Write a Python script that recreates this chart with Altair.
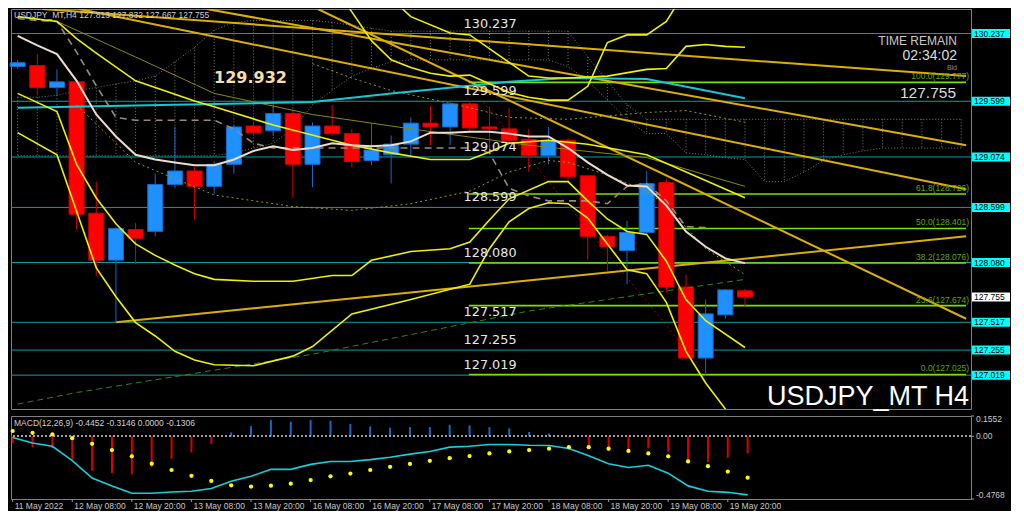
import altair as alt
import pandas as pd

# ---------------- chart values ----------------
bar_index = list(range(38))
opens = [129.926, 129.935, 129.728, 129.782, 128.544, 128.102, 128.391, 128.373, 128.815, 128.942,
         128.797, 129.005, 129.366, 129.321, 129.484, 129.005, 129.366, 129.294, 129.041, 129.095,
         129.195, 129.393, 129.357, 129.574, 129.357, 129.339, 129.240, 129.086, 129.231, 128.897,
         128.327, 128.192, 128.364, 128.833, 127.849, 127.180, 127.587, 127.813]
highs = [129.990, 130.044, 129.899, 129.800, 128.842, 128.410, 128.454, 128.915, 129.357, 128.978,
         129.032, 129.370, 129.400, 129.565, 129.520, 129.400, 129.565, 129.340, 129.393, 129.276,
         129.448, 129.556, 129.600, 129.600, 129.547, 129.538, 129.339, 129.357, 129.250, 128.900,
         128.340, 128.472, 128.942, 128.869, 127.966, 127.731, 127.830, 127.832]
lows = [129.900, 129.655, 129.655, 128.391, 127.957, 127.517, 128.065, 128.327, 128.779, 128.481,
        128.725, 128.915, 129.280, 129.276, 128.689, 128.788, 129.270, 128.978, 128.995, 128.824,
        129.086, 129.186, 129.186, 129.310, 129.131, 129.220, 128.933, 129.005, 128.851, 128.102,
        127.993, 127.876, 128.350, 127.794, 127.170, 127.019, 127.551, 127.667]
closes = [129.962, 129.728, 129.782, 128.535, 128.102, 128.400, 128.309, 128.815, 128.942, 128.797,
          129.005, 129.357, 129.303, 129.484, 129.005, 129.366, 129.294, 129.032, 129.140, 129.195,
          129.393, 129.357, 129.574, 129.348, 129.339, 129.231, 129.086, 129.231, 128.888, 128.327,
          128.228, 128.364, 128.824, 127.849, 127.180, 127.596, 127.822, 127.755]

macd_main = [-0.009, -0.050, -0.075, -0.184, -0.317, -0.377, -0.433, -0.433, -0.423, -0.418,
             -0.397, -0.341, -0.304, -0.251, -0.251, -0.213, -0.191, -0.191, -0.177, -0.159,
             -0.135, -0.115, -0.082, -0.075, -0.062, -0.062, -0.068, -0.070, -0.092, -0.147,
             -0.208, -0.237, -0.220, -0.280, -0.377, -0.418, -0.426, -0.4452]
macd_signal = [0.041, 0.027, 0.015, -0.014, -0.057, -0.104, -0.152, -0.208, -0.256, -0.300,
               -0.339, -0.373, -0.382, -0.375, -0.360, -0.333, -0.304, -0.283, -0.256, -0.232,
               -0.210, -0.186, -0.166, -0.150, -0.130, -0.115, -0.104, -0.094, -0.082, -0.082,
               -0.094, -0.111, -0.130, -0.152, -0.191, -0.227, -0.268, -0.3146]
macd_hist = [-0.050, -0.082, -0.087, -0.179, -0.261, -0.280, -0.288, -0.232, -0.171, -0.123,
             -0.057, 0.030, 0.078, 0.124, 0.112, 0.124, 0.119, 0.095, 0.076, 0.066,
             0.071, 0.071, 0.088, 0.083, 0.071, 0.061, 0.034, 0.022, -0.009, -0.075,
             -0.111, -0.123, -0.092, -0.115, -0.195, -0.195, -0.164, -0.1306]

tenkan = [130.215, 130.125, 130.043, 129.791, 129.474, 129.267, 129.095, 129.050, 129.023, 128.996,
          128.996, 129.050, 129.131, 129.176, 129.140, 129.158, 129.203, 129.185, 129.176, 129.185,
          129.221, 129.303, 129.303, 129.312, 129.312, 129.294, 129.267, 129.267, 129.158, 129.023,
          128.905, 128.806, 128.797, 128.616, 128.372, 128.228, 128.119, 128.074]
kijun_idx = list(range(36))
kijun = [130.378, 130.360, 130.351, 130.062, 129.745, 129.447, 129.420, 129.420, 129.420, 129.420,
         129.420, 129.339, 129.203, 129.158, 129.158, 129.158, 129.158, 129.158, 129.158, 129.158,
         129.158, 129.158, 129.158, 129.158, 129.113, 128.779, 128.707, 128.661, 128.661, 128.661,
         128.634, 128.797, 128.824, 128.661, 128.418, 128.409]
cyan_ma_idx = [0, 8, 15, 19, 23, 25, 28, 32, 35, 37]
cyan_ma = [129.538, 129.565, 129.592, 129.673, 129.745, 129.782, 129.818, 129.809, 129.700, 129.628]

band1_idx = [0, 2, 3, 4, 6, 9, 10, 13, 17, 19, 21, 23, 24, 25, 27, 29, 32, 37]
band1 = [130.396, 130.351, 130.188, 130.052, 129.791, 129.601, 129.547, 129.375, 129.185, 129.113,
         129.050, 129.050, 129.122, 129.203, 129.231, 129.194, 129.095, 128.689]
olive_idx = [2, 6, 10, 15, 20, 26, 32, 37]
olive = [130.351, 130.016, 129.673, 129.474, 129.339, 129.185, 129.068, 128.797]
band3_idx = [0, 2, 3, 4, 5, 6, 7, 8, 9, 10, 12, 14, 16, 17, 18, 20, 22, 23, 24, 25, 27, 28, 29, 30,
             31, 32, 33, 34, 35, 37]
band3 = [129.673, 129.502, 129.005, 128.688, 128.445, 128.255, 128.147, 128.056, 127.975, 127.921,
         127.903, 127.903, 127.957, 127.957, 128.101, 128.183, 128.210, 128.273, 128.481, 128.680,
         128.842, 128.842, 128.661, 128.490, 128.372, 128.345, 128.092, 127.731, 127.532, 127.279]
band4_idx = [0, 2, 4, 5, 6, 7, 8, 9, 10, 12, 14, 15, 17, 20, 23, 24, 25, 26, 27, 28, 29, 30, 31, 32,
             33, 34, 35, 36, 37]
band4 = [129.303, 129.095, 128.029, 127.758, 127.514, 127.388, 127.243, 127.162, 127.117, 127.108,
         127.198, 127.288, 127.596, 127.731, 127.876, 128.210, 128.463, 128.589, 128.643, 128.634,
         128.499, 128.255, 128.011, 127.975, 127.704, 127.243, 126.945, 126.701, 126.448]
band5_idx = [16, 17, 18, 19, 20, 21, 22, 23, 24, 25, 26, 27, 28, 29, 30, 31, 32, 33, 34]
band5 = [130.694, 130.441, 130.170, 129.989, 129.917, 129.863, 129.836, 129.845, 129.763, 129.682,
         129.637, 129.610, 129.610, 129.740, 130.152, 130.224, 130.224, 130.351, 130.649]
band6_idx = [18, 20, 22, 23, 26, 27, 28, 30, 32, 33, 34, 35, 36, 37]
band6 = [130.739, 130.396, 130.242, 130.224, 129.836, 129.818, 129.818, 129.836, 129.899, 129.908,
         130.116, 130.134, 130.116, 130.107]
dotted_low_idx = [3, 6, 10, 14, 17, 20, 23, 25, 27, 28, 30, 32, 33, 35, 37]
dotted_low = [129.565, 129.023, 128.716, 128.607, 128.571, 128.634, 128.752, 128.932, 129.041, 129.023,
              128.905, 128.752, 128.616, 128.210, 127.966]
dotted_up_idx = [15, 17, 19, 23, 25, 28, 32, 34, 37]
dotted_up = [129.953, 129.818, 129.700, 129.538, 129.447, 129.429, 129.493, 129.511, 129.402]
green_dash_idx = [0, 3, 15, 26, 37]
green_dash = [126.746, 126.855, 127.216, 127.623, 127.921]
red_dot_idx = [23.69, 35.0]
red_dot = [129.592, 127.035]

cloud_idx = list(range(49))
cloud_top = [129.637, 129.637, 129.655, 129.700, 129.727, 129.763, 129.791, 129.836, 129.971, 130.107,
             130.269, 130.342, 130.360, 130.360, 130.360, 130.360, 130.342, 130.314, 130.287, 130.260,
             130.260, 130.260, 130.260, 130.260, 130.260, 130.260, 130.260, 130.260, 130.260, 130.016,
             129.791, 129.565, 129.429, 129.429, 129.429, 129.429, 129.429, 129.429, 129.429, 129.429,
             129.429, 129.429, 129.429, 129.429, 129.429, 129.429, 129.429, 129.429, 129.429]
cloud_bottom = [129.086, 129.086, 129.086, 129.086, 129.086, 129.086, 129.086, 129.086, 129.086, 129.086,
                129.086, 129.113, 129.158, 129.203, 129.339, 129.565, 129.700, 129.836, 129.908, 129.971,
                129.989, 129.989, 129.989, 129.989, 129.989, 129.989, 129.989, 129.989, 129.926, 129.791,
                129.610, 129.429, 129.294, 129.294, 129.113, 129.095, 129.068, 129.050, 128.842, 128.842,
                128.932, 129.041, 129.095, 129.131, 129.158, 129.158, 129.158, 129.158, 129.158]

trend_x0 = [1.245, 9.61, 3.12, 15.27, 5.0]
trend_p0 = [130.468, 130.468, 130.468, 130.468, 127.517]
trend_x1 = [48.25, 48.25, 48.25, 48.25, 48.25]
trend_p1 = [129.836, 129.185, 128.770, 127.550, 128.327]

level_prices = [130.237, 129.599, 129.074, 128.599, 128.080, 127.517, 127.255, 127.019]
fib_pct = ["100.0", "61.8", "50.0", "38.2", "23.6", "0.0"]
fib_prices = [129.777, 128.726, 128.401, 128.076, 127.674, 127.025]
fib_start = 22.95
current_price = [127.755]

price_ticks = [130.180, 129.900, 129.620, 129.335, 129.055, 128.775, 128.495, 128.210,
               127.930, 127.650, 127.370, 127.085, 126.805]
macd_ticks = [0.1552, 0.0, -0.4768]
macd_tick_labels = ["0.1552", "0.00", "-0.4768"]
x_tick_pos = [0, 3, 6, 9, 12, 15, 18, 21, 24, 27, 30, 33, 36]
x_tick_labels = ["11 May 2022", "12 May 08:00", "12 May 20:00", "13 May 08:00", "13 May 20:00",
                 "16 May 08:00", "16 May 20:00", "17 May 08:00", "17 May 20:00", "18 May 08:00",
                 "18 May 20:00", "19 May 08:00", "19 May 20:00"]

# ---------------- layout / style ----------------
W, H, HM = 960, 400, 83
XD = [-0.0837, 48.243]
YD = [126.70, 130.468]
MD = [-0.4768, 0.1552]
AX = "#c8c8c8"
TICK = "#9a9a9a"
SANS = "Liberation Sans"

xs = alt.Scale(domain=XD, nice=False, zero=False)
ys = alt.Scale(domain=YD, nice=False, zero=False)
ms = alt.Scale(domain=MD, nice=False, zero=False)


def xq(f="i"):
    return alt.X(f"{f}:Q", scale=xs, axis=None)


def yq(f="p", axis=None):
    return alt.Y(f"{f}:Q", scale=ys, axis=axis)


def ym(f):
    return alt.Y(f"{f}:Q", scale=ms, axis=None)


def line(idx, vals, color, width=1.5, dash=None):
    df = pd.DataFrame({"i": idx, "p": vals})
    kw = dict(color=color, strokeWidth=width, clip=True)
    if dash:
        kw["strokeDash"] = dash
    return alt.Chart(df).mark_line(**kw).encode(x=xq(), y=yq())


def txt(s, x, y, **kw):
    return alt.Chart(pd.DataFrame({"t": [s]})).mark_text(**kw).encode(
        x=alt.value(x), y=alt.value(y), text="t:N")


# cloud
cloud_df = pd.DataFrame({"i": cloud_idx, "top": cloud_top, "bot": cloud_bottom})
cloud_v = alt.Chart(cloud_df).mark_rule(color="#7a7a7a", strokeDash=[1, 2], strokeWidth=1, clip=True).encode(
    x=xq(), y=yq("top"), y2="bot:Q")
cloud_t = alt.Chart(cloud_df).mark_line(color="#7a7a7a", strokeDash=[1, 2], strokeWidth=1, clip=True).encode(
    x=xq(), y=yq("top"))
cloud_b = alt.Chart(cloud_df).mark_line(color="#7a7a7a", strokeDash=[1, 2], strokeWidth=1, clip=True).encode(
    x=xq(), y=yq("bot"))

# horizontal levels
lv_df = pd.DataFrame({"p": level_prices, "lbl": [f"{v:.3f}" for v in level_prices]})
lv_rule = alt.Chart(lv_df).mark_rule(color="#0a9fa6", strokeWidth=1).encode(y=yq())
lv_text = alt.Chart(lv_df).mark_text(align="left", baseline="bottom", dy=-3, font="DejaVu Sans",
                                     fontSize=12.8, color="#e8e8e8").encode(
    x=alt.value(452.6), y=yq(), text="lbl:N")

# fibonacci
fib_df = pd.DataFrame({"p": fib_prices, "x0": [fib_start] * len(fib_prices), "x1": [XD[1]] * len(fib_prices),
                       "lbl": [f"{a}({b:.3f})" for a, b in zip(fib_pct, fib_prices)]})
fib_rule = alt.Chart(fib_df).mark_rule(color="#7ee000", strokeWidth=1.6).encode(
    x=xq("x0"), x2="x1:Q", y=yq())
fib_text = alt.Chart(fib_df).mark_text(align="right", baseline="bottom", dy=-1, font=SANS, fontSize=8.5,
                                       color="#5fa800").encode(x=alt.value(W - 2), y=yq(), text="lbl:N")

# trend lines
tl_df = pd.DataFrame({"x0": trend_x0, "p0": trend_p0, "x1": trend_x1, "p1": trend_p1})
tl = alt.Chart(tl_df).mark_rule(color="#dcb000", strokeWidth=2, clip=True).encode(
    x=xq("x0"), y=yq("p0"), x2="x1:Q", y2="p1:Q")

# candles
cd = pd.DataFrame({"i": bar_index, "o": opens, "h": highs, "l": lows, "c": closes})
cd["dir"] = ["up" if c >= o else "down" for o, c in zip(opens, closes)]
stroke_sc = alt.Scale(domain=["up", "down"], range=["#1667c8", "#d40000"])
fill_sc = alt.Scale(domain=["up", "down"], range=["#1e90ff", "#ff0000"])
y_axis = alt.Axis(orient="right", values=price_ticks, format=".3f", labelFont=SANS, labelFontSize=8.5,
                  labelColor=AX, tickColor=TICK, tickSize=3, labelPadding=2, domain=False,
                  grid=False, title=None, labelOverlap=False, labelFlush=False)
wicks = alt.Chart(cd).mark_rule(strokeWidth=1).encode(
    x=xq(), y=yq("l", axis=y_axis), y2="h:Q",
    stroke=alt.Stroke("dir:N", scale=stroke_sc, legend=None))
bodies = alt.Chart(cd).mark_bar(size=15, strokeWidth=1).encode(
    x=xq(), y=yq("o"), y2="c:Q",
    fill=alt.Fill("dir:N", scale=fill_sc, legend=None),
    stroke=alt.Stroke("dir:N", scale=stroke_sc, legend=None))

# indicators
YEL = "#f0f000"
ind = [
    line(green_dash_idx, green_dash, "#2f8a00", 1, [6, 4]),
    line(red_dot_idx, red_dot, "#a00000", 1, [2, 3]),
    line(dotted_up_idx, dotted_up, "#9a9a00", 1, [2, 3]),
    line(dotted_low_idx, dotted_low, "#9a9a00", 1, [2, 3]),
    line(kijun_idx, kijun, "#968a80", 1.6, [7, 5]),
    line(olive_idx, olive, "#8a8a00", 1),
    line(cyan_ma_idx, cyan_ma, "#14c8d4", 2),
    line(band1_idx, band1, YEL, 1.6),
    line(band3_idx, band3, YEL, 1.6),
    line(band4_idx, band4, YEL, 1.6),
    line(band5_idx, band5, YEL, 1.6),
    line(band6_idx, band6, YEL, 1.6),
    line(bar_index, tenkan, "#ecdccc", 2),
]

# right-hand price boxes
box_df = pd.DataFrame({"p": level_prices, "lbl": [f"{v:.3f}" for v in level_prices]})
cur_df = pd.DataFrame({"p": current_price, "lbl": [f"{v:.3f}" for v in current_price]})
boxes = alt.Chart(box_df).mark_rect(color="#00ffff", yOffset=-4.5, y2Offset=4.5).encode(
    x=alt.value(W + 1), x2=alt.value(W + 39), y=yq(), y2="p:Q")
box_txt = alt.Chart(box_df).mark_text(align="left", baseline="middle", font=SANS, fontSize=8.5,
                                      color="#000000").encode(x=alt.value(W + 3), y=yq(), text="lbl:N")
cbox = alt.Chart(cur_df).mark_rect(color="#ffffff", yOffset=-4.5, y2Offset=4.5).encode(
    x=alt.value(W + 1), x2=alt.value(W + 39), y=yq(), y2="p:Q")
cbox_txt = alt.Chart(cur_df).mark_text(align="left", baseline="middle", font=SANS, fontSize=8.5,
                                       color="#000000").encode(x=alt.value(W + 3), y=yq(), text="lbl:N")

texts = [
    txt("USDJPY_MT,H4  127.813 127.832 127.667 127.755", 3, 6, align="left", baseline="middle",
        font=SANS, fontSize=8.5, color="#d0d0d0"),
    txt("129.932", 239.5, 69, align="center", baseline="middle", font="DejaVu Sans", fontWeight="bold",
        fontSize=16, color="#f5deb3"),
    txt("TIME REMAIN", 946, 31.5, align="right", baseline="middle", font=SANS, fontSize=12, color="#c8c8c8"),
    txt("02:34:02", 946, 46.5, align="right", baseline="middle", font=SANS, fontSize=14, color="#dcdcdc"),
    txt("Bid", 946, 58.5, align="right", baseline="middle", font=SANS, fontSize=7, color="#8a8a8a"),
    txt("127.755", 945, 84, align="right", baseline="middle", font=SANS, fontSize=15.5, color="#dcdcdc"),
    txt("USDJPY_MT H4", 958, 396, align="right", baseline="alphabetic", font=SANS, fontSize=27,
        color="#ffffff"),
]

main = alt.layer(
    cloud_v, cloud_t, cloud_b, lv_rule, fib_rule, tl, wicks, bodies, *ind,
    lv_text, fib_text, boxes, box_txt, cbox, cbox_txt, *texts
).properties(width=W, height=H)

# ---------------- MACD panel ----------------
md = pd.DataFrame({"i": bar_index, "m": macd_main, "s": macd_signal, "h": macd_hist,
                   "z": [0.0] * len(bar_index)})
md["dir"] = ["up" if v >= 0 else "down" for v in macd_hist]
xt = pd.DataFrame({"i": x_tick_pos, "lbl": x_tick_labels})
mt = pd.DataFrame({"v": macd_ticks, "lbl": macd_tick_labels})

hist = alt.Chart(md).mark_rule(strokeWidth=2).encode(
    x=xq(), y=ym("h"), y2="z:Q",
    stroke=alt.Stroke("dir:N", scale=alt.Scale(domain=["up", "down"], range=["#1e7fe0", "#e00000"]),
                      legend=None))
zero = alt.Chart(md).mark_rule(color="#a0a0a0", strokeDash=[2, 2], strokeWidth=1).encode(y=ym("z"))
mline = alt.Chart(md).mark_line(color="#14d0dc", strokeWidth=1.6).encode(x=xq(), y=ym("m"))
sig = alt.Chart(md).mark_circle(color="#ffff00", size=18, opacity=1).encode(x=xq(), y=ym("s"))
mtitle = txt("MACD(12,26,9) -0.4452 -0.3146 0.0000 -0.1306", 3, 7, align="left", baseline="middle",
             font=SANS, fontSize=8.5, color="#d0d0d0")

# bottom time axis (ticks + labels placed through the x scale)
x_ticks = alt.Chart(xt).mark_rule(color=TICK, strokeWidth=1).encode(
    x=xq(), y=alt.value(HM), y2=alt.value(HM + 3))
x_lbls = alt.Chart(xt).mark_text(align="left", baseline="top", dx=2, font=SANS, fontSize=8.5,
                                 color=AX).encode(x=xq(), y=alt.value(HM + 3), text="lbl:N")
# right MACD axis (ticks + labels placed through the y scale)
m_ticks = alt.Chart(mt).mark_rule(color=TICK, strokeWidth=1).encode(
    x=alt.value(W), x2=alt.value(W + 3), y=ym("v"))
m_lbls = alt.Chart(mt).mark_text(align="left", baseline="middle", font=SANS, fontSize=8.5,
                                 color=AX).encode(x=alt.value(W + 5), y=ym("v"), text="lbl:N")
m_lbls_top = m_lbls.transform_filter("datum.v > 0.1").mark_text(
    align="left", baseline="top", dy=-1, font=SANS, fontSize=8.5, color=AX)
m_lbls_mid = m_lbls.transform_filter("datum.v == 0").mark_text(
    align="left", baseline="middle", font=SANS, fontSize=8.5, color=AX)
m_lbls_bot = m_lbls.transform_filter("datum.v < -0.1").mark_text(
    align="left", baseline="bottom", dy=1, font=SANS, fontSize=8.5, color=AX)

macd = alt.layer(hist, zero, mline, sig, mtitle, x_ticks, x_lbls, m_ticks,
                 m_lbls_top, m_lbls_mid, m_lbls_bot).properties(width=W, height=HM)

chart = alt.vconcat(main, macd, spacing=3).properties(
    padding=0, background="#000000"
).configure_view(stroke="#7f7f7f", strokeWidth=1)

chart.save("out.html", embed_options={"renderer": "svg", "actions": False})
